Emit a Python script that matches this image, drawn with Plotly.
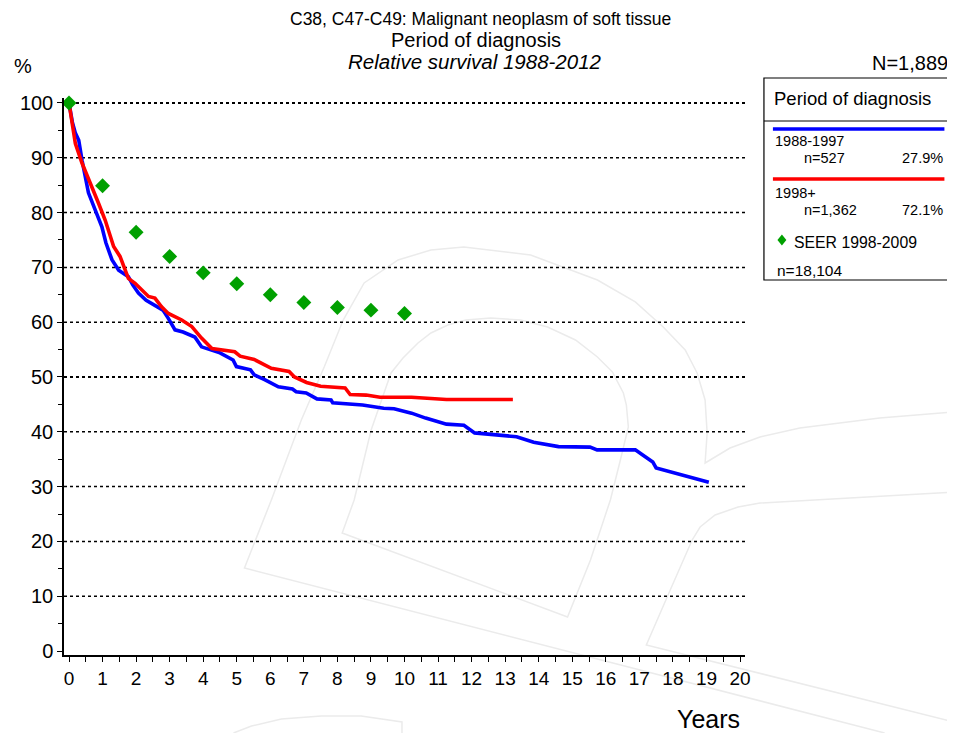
import plotly.graph_objects as go

# ---- data ----
blue_years = [0, 0.1, 0.19, 0.29, 0.39, 0.58, 0.78, 0.98, 1.1, 1.28, 1.48, 1.77, 1.9, 2.07, 2.3, 2.56, 2.8, 2.96, 3.16, 3.4, 3.75, 3.95,
              4.2, 4.5, 4.89, 4.99, 5.41, 5.52, 5.83, 6.24, 6.66, 6.77, 7.07, 7.39, 7.81, 7.86, 8.75, 9.38, 9.69, 10.21,
              10.63, 11.25, 11.77, 12.09, 13.34, 13.85, 14.59, 15.53, 15.74, 16.88, 17.09, 17.4, 17.5, 17.92, 19.07]
blue_vals = [100, 96.5, 94.5, 93.2, 89.5, 83.6, 80.5, 77.4, 74.5, 71.4, 69.5, 68.3, 66.8, 65.3, 64.0, 63.1, 62.2, 60.7, 58.6, 58.2, 57.3, 55.5,
             55.0, 54.4, 53.1, 51.9, 51.3, 50.4, 49.5, 48.2, 47.8, 47.3, 47.1, 46.0, 45.8, 45.3, 44.9, 44.3, 44.2, 43.4,
             42.5, 41.4, 41.2, 39.8, 39.1, 38.1, 37.3, 37.2, 36.7, 36.7, 35.8, 34.5, 33.4, 32.7, 30.8]

red_years = [0, 0.1, 0.19, 0.39, 0.58, 0.88, 1.08, 1.33, 1.52, 1.77, 1.97, 2.37, 2.56, 2.76, 2.96, 3.36, 3.66, 3.95, 4.26,
             4.94, 5.10, 5.52, 6.03, 6.56, 6.72, 7.08, 7.50, 8.23, 8.38, 8.86, 9.27, 10.21, 11.25, 13.23]
red_vals = [100, 95.5, 92.6, 89.0, 86.0, 81.7, 78.6, 73.8, 72.0, 68.0, 67.1, 64.7, 64.4, 62.8, 61.6, 60.4, 59.2, 57.1, 55.2,
            54.6, 53.8, 53.2, 51.6, 51.0, 50.0, 49.0, 48.3, 48.0, 46.8, 46.7, 46.3, 46.3, 45.9, 45.9]

seer_years = [0, 1, 2, 3, 4, 5, 6, 7, 8, 9, 10]
seer_vals = [100, 84.9, 76.4, 72.0, 69.0, 67.0, 65.0, 63.6, 62.7, 62.2, 61.6]

grid_values = [10, 20, 30, 40, 50, 60, 70, 80, 90, 100]
heavy_grid = [50, 100]
x_ticks = list(range(0, 21))
y_ticks = list(range(0, 101, 10))

FONT = "Arial, Liberation Sans, sans-serif"

# ---- layout geometry (page pixels; page body has an 8px margin) ----
OFF = 8
W, H = 955 - OFF, 733 - OFF
ML, MR, MT, MB = 62 - OFF, 210, 98 - OFF, 78
PW, PH = W - ML - MR, H - MT - MB


def px(x):
    return (x - OFF - ML) / PW


def py(y):
    return (H - MB - (y - OFF)) / PH


def poly(points, closed=False):
    s = "M " + " L ".join(f"{px(a):.4f},{py(b):.4f}" for a, b in points)
    return s + (" Z" if closed else "")


fig = go.Figure()

fig.add_trace(go.Scatter(x=blue_years, y=blue_vals, mode="lines",
                         line=dict(color="#0000ff", width=3.6), showlegend=False, cliponaxis=False))
fig.add_trace(go.Scatter(x=red_years, y=red_vals, mode="lines",
                         line=dict(color="#ff0000", width=3.6), showlegend=False, cliponaxis=False))
fig.add_trace(go.Scatter(x=seer_years, y=seer_vals, mode="markers",
                         marker=dict(symbol="diamond", color="#00a000", size=11.5), showlegend=False, cliponaxis=False))

shapes = []

# faint watermark logo
wm = dict(color="#ebebeb", width=1.5)
wm_paths = [
    # outer loop
    [(885, 733), (243, 568), (270, 500), (300, 420), (323, 367), (342, 320), (363, 283), (397, 260), (430, 250),
     (463, 247), (530, 255), (597, 280), (635, 302), (663, 327), (685, 350), (697, 373), (705, 400), (707, 433),
     (705, 463), (730, 448), (760, 437), (800, 428), (880, 418), (955, 412)],
    # inner loop
    [(353, 500), (341, 533), (567, 617), (590, 560), (610, 500), (620, 460), (628, 427), (626, 405), (623, 393),
     (612, 372), (597, 357), (575, 340), (547, 327), (520, 320), (490, 318), (465, 320), (447, 325), (430, 333),
     (417, 343), (402, 358), (390, 373), (370, 430), (353, 500)],
    # right piece
    [(955, 492), (850, 498), (760, 503), (738, 507), (715, 515), (700, 527), (692, 540), (670, 590), (646, 645),
     (955, 722)],
    # bottom arc
    [(232, 733), (250, 726), (280, 719), (320, 716), (360, 716), (401, 722), (401, 733)],
]
for pts in wm_paths:
    shapes.append(dict(type="path", xref="paper", yref="paper", path=poly(pts), line=wm, layer="below"))

for g in grid_values:
    shapes.append(dict(type="line", xref="paper", yref="y", x0=0, x1=1, y0=g, y1=g,
                       line=dict(color="black", width=2.2 if g in heavy_grid else 1.5, dash="dot"), layer="below"))

# legend box
shapes.append(dict(type="rect", xref="paper", yref="paper", x0=px(764), x1=px(954), y0=py(280), y1=py(78),
                   line=dict(color="black", width=1.2), fillcolor="white", layer="above"))
shapes.append(dict(type="line", xref="paper", yref="paper", x0=px(764), x1=px(954), y0=py(121), y1=py(121),
                   line=dict(color="black", width=1)))
shapes.append(dict(type="line", xref="paper", yref="paper", x0=px(773), x1=px(945), y0=py(129), y1=py(129),
                   line=dict(color="#0000ff", width=3.6)))
shapes.append(dict(type="line", xref="paper", yref="paper", x0=px(773), x1=px(945), y0=py(179), y1=py(179),
                   line=dict(color="#ff0000", width=3.6)))
# legend diamond
dx, dy, cx, cy = 4.5, 5.5, 782, 240
shapes.append(dict(type="path", xref="paper", yref="paper",
                   path=poly([(cx, cy - dy), (cx + dx, cy), (cx, cy + dy), (cx - dx, cy)], closed=True),
                   fillcolor="#00a000", line=dict(color="#00a000", width=0)))

ann = []


def text(x, y, s, size, xanchor="left", italic=False):
    ann.append(dict(x=px(x), y=py(y), xref="paper", yref="paper", text=f"<i>{s}</i>" if italic else s,
                    showarrow=False, xanchor=xanchor, yanchor="middle",
                    font=dict(family=FONT, size=size, color="black")))


text(480, 19, "C38, C47-C49: Malignant neoplasm of soft tissue", 17.5, "center")
text(475, 40, "Period of diagnosis", 20, "center")
text(474, 62, "Relative survival 1988-2012", 20.5, "center", italic=True)
text(10, 66, "%", 20)
text(951, 63, "N=1,889", 20, "right")
text(742, 719, "Years", 25, "right")

text(772, 98, "Period of diagnosis", 18.5)
text(773, 141, "1988-1997", 14.5)
text(802, 158, "n=527", 14.5)
text(946, 158, "27.9%", 14.5, "right")
text(773, 193, "1998+", 14.5)
text(802, 210, "n=1,362", 14.5)
text(946, 210, "72.1%", 14.5, "right")
text(792, 242, "SEER 1998-2009", 15.8)
text(775, 270, "n=18,104", 15.5)

fig.update_layout(
    width=W, height=H,
    margin=dict(l=ML, r=MR, t=MT, b=MB, pad=0),
    paper_bgcolor="white", plot_bgcolor="white",
    font=dict(family=FONT, color="black"),
    shapes=shapes, annotations=ann,
    xaxis=dict(range=[-0.149, 20.149], tickvals=x_ticks, ticktext=[str(v) for v in x_ticks],
               ticks="outside", ticklen=5, tickwidth=1, tickcolor="black",
               minor=dict(dtick=0.5, tick0=0, ticks="outside", ticklen=5, tickwidth=1, tickcolor="black"),
               showline=True, linecolor="black", linewidth=1.5, showgrid=False, zeroline=False,
               tickfont=dict(size=19, family=FONT), fixedrange=True),
    yaxis=dict(range=[-0.73, 100.91], tickvals=y_ticks, ticktext=[str(v) for v in y_ticks],
               ticks="outside", ticklen=5, tickwidth=1, tickcolor="black",
               minor=dict(dtick=5, tick0=0, ticks="outside", ticklen=4, tickwidth=1, tickcolor="black"),
               showline=True, linecolor="black", linewidth=1.5, showgrid=False, zeroline=False,
               tickfont=dict(size=20, family=FONT), fixedrange=True),
)

fig.write_html("out.html")
